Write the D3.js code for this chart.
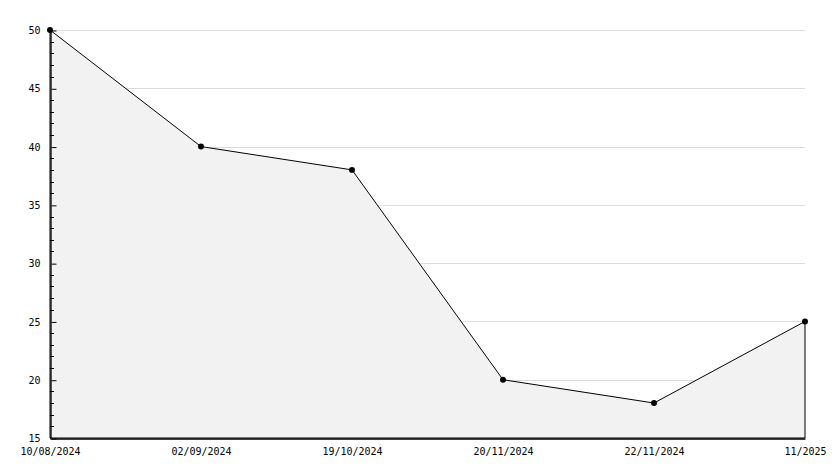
<!DOCTYPE html>
<html>
<head>
<meta charset="utf-8">
<script src="https://cdn.jsdelivr.net/npm/d3@7"></script>
<style>
body { margin: 0; background: #fff; }
text { font-family: "DejaVu Sans Mono", monospace; font-size: 10px; fill: #000; }
</style>
</head>
<body>
<svg id="chart" width="834" height="468"></svg>
<script>
var dates = ["10/08/2024", "02/09/2024", "19/10/2024", "20/11/2024", "22/11/2024", "11/2025"];
var values = [50, 40, 38, 20, 18, 25];
var yTicks = [15, 20, 25, 30, 35, 40, 45, 50];

var svg = d3.select("#chart");
var plotLeft = 50, plotRight = 805, plotTop = 30, plotBottom = 438;

var x = d3.scalePoint().domain(d3.range(dates.length)).range([plotLeft, plotRight]);
var y = d3.scaleLinear().domain([15, 50]).range([plotBottom, plotTop]);

// gridlines
svg.append("g").selectAll("line")
    .data(yTicks.slice(1))
    .enter().append("line")
    .attr("x1", plotLeft).attr("x2", plotRight)
    .attr("y1", function (d) { return Math.round(y(d)) + 0.5; })
    .attr("y2", function (d) { return Math.round(y(d)) + 0.5; })
    .attr("stroke", "#dddddd");

// area
var area = d3.area()
    .x(function (d, i) { return x(i); })
    .y0(plotBottom)
    .y1(function (d) { return y(d); });
svg.append("path")
    .datum(values)
    .attr("d", area)
    .attr("fill", "#f2f2f2")
    .attr("stroke", "#000")
    .attr("stroke-width", 1);

// minor ticks on y axis
var minor = d3.range(15, 51).filter(function (v) { return v % 5 != 0; });
svg.append("g").selectAll("line")
    .data(minor)
    .enter().append("line")
    .attr("x1", plotLeft).attr("x2", plotLeft + 4)
    .attr("y1", function (d) { return Math.round(y(d)) + 0.5; })
    .attr("y2", function (d) { return Math.round(y(d)) + 0.5; })
    .attr("stroke", "#000");

// y axis
var yAxis = svg.append("g")
    .attr("transform", "translate(" + (plotLeft + 0.5) + ",0.5)")
    .call(d3.axisLeft(y).tickValues(yTicks).tickSizeInner(-6).tickSizeOuter(0).tickPadding(8));
yAxis.select(".domain").attr("stroke", "#000").attr("stroke-width", 1.3);
yAxis.selectAll(".tick line").attr("x1", 1);
yAxis.selectAll("text").attr("dx", "-0.2em").style("font-weight", "normal");

// x axis
var xAxis = svg.append("g")
    .attr("transform", "translate(0," + (plotBottom + 0.5) + ")")
    .call(d3.axisBottom(x).tickFormat(function (i) { return dates[i]; }).tickSize(0).tickPadding(8));
xAxis.select(".domain").attr("stroke", "#000").attr("stroke-width", 1.3);
xAxis.selectAll(".tick text").attr("dy", "0.85em");

// markers
svg.append("g").selectAll("path")
    .data(values)
    .enter().append("path")
    .attr("transform", function (d, i) { return "translate(" + x(i) + "," + y(d) + ")"; })
    .attr("d", d3.symbol().type(d3.symbolCircle).size(28))
    .attr("fill", "#000");
</script>
</body>
</html>
